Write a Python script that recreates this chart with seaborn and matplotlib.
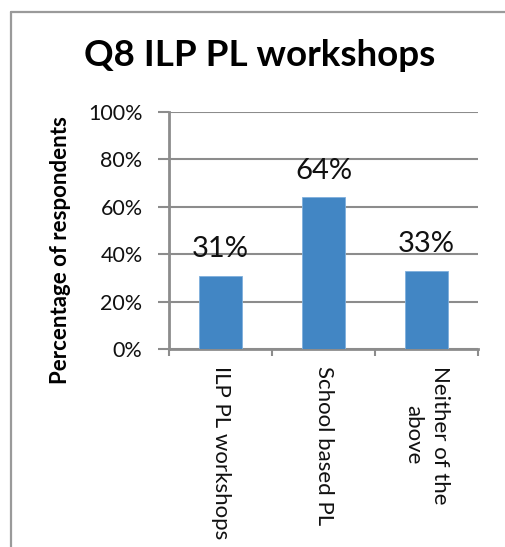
import matplotlib
matplotlib.use("Agg")
import matplotlib.pyplot as plt
import seaborn as sns
import pandas as pd
from matplotlib.lines import Line2D

categories = ["ILP PL workshops", "School based PL", "Neither of the\nabove"]
values = [31, 64, 33]
value_labels = ["31%", "64%", "33%"]
yticks = [0, 20, 40, 60, 80, 100]
ytick_labels = ["0%", "20%", "40%", "60%", "80%", "100%"]
title = "Q8 ILP PL workshops"
ylabel = "Percentage of respondents"

sns.set_theme(style="white")
plt.rcParams["font.family"] = ["Lato", "DejaVu Sans"]

W, H = 505, 547
fig = plt.figure(figsize=(W / 100, H / 100), dpi=100)
ax = fig.add_axes([169 / W, 1 - 349 / H, (478 - 169) / W, (349 - 112) / H])

df = pd.DataFrame({"cat": categories, "val": values})
sns.barplot(data=df, x="cat", y="val", ax=ax, color="#4286C4", width=0.41,
            saturation=1, edgecolor="#7FB0DD", linewidth=0.6, zorder=3)

ax.set_ylim(0, 100)
ax.set_xlim(-0.5, 2.5)
ax.set_yticks(yticks)
ax.set_yticklabels(ytick_labels, fontsize=15.5, color="#111111")
ax.yaxis.grid(True, color="#8c8c8c", linewidth=1.5, zorder=0)
ax.set_axisbelow(True)

# category boundary ticks (major), labels at minor positions
ax.set_xticks([-0.5, 0.5, 1.5, 2.5])
ax.set_xticklabels(["", "", "", ""])
ax.set_xticks([0, 1, 2], minor=True)
ax.set_xticklabels(categories, minor=True, rotation=270, fontsize=16,
                   ha="center", va="top", multialignment="center", color="#111111",
                   linespacing=1.45)
ax.tick_params(axis="x", which="major", length=5, width=1.5, color="#8c8c8c", direction="out", bottom=True)
ax.tick_params(axis="x", which="minor", length=0, pad=12)
ax.tick_params(axis="y", which="major", length=8, width=1.5, color="#8c8c8c", direction="out", left=True, pad=11)
ax.set_xlabel("")
ax.set_ylabel("")

for s in ["top", "right"]:
    ax.spines[s].set_visible(False)
for s in ["left", "bottom"]:
    ax.spines[s].set_color("#8c8c8c")
    ax.spines[s].set_linewidth(2)

for i, (v, lab) in enumerate(zip(values, value_labels)):
    ax.annotate(lab, xy=(i, v), xytext=(0, 13.5), textcoords="offset points",
                ha="center", va="baseline", fontsize=21, color="#111111")

fig.text(260 / W, 1 - 66 / H, title, ha="center", va="baseline",
         fontsize=26.5, fontweight="bold", color="#000000")
fig.text(61 / W, 1 - 250 / H, ylabel, ha="center", va="center", rotation=90,
         fontsize=16, fontweight="bold", color="#000000")

# outer chart border (left and top visible)
fig.add_artist(Line2D([10.5 / W, 10.5 / W], [0, 1 - 12 / H], transform=fig.transFigure,
                      color="#9a9a9a", linewidth=1.6))
fig.add_artist(Line2D([10.5 / W, 1.0], [1 - 12 / H, 1 - 12 / H], transform=fig.transFigure,
                      color="#9a9a9a", linewidth=1.6))

fig.savefig("out.png", dpi=100)
